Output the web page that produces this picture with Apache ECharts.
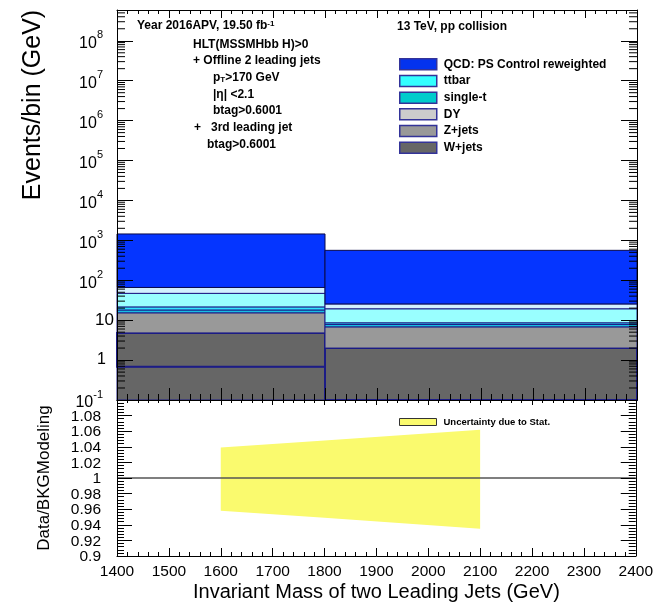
<!DOCTYPE html>
<html>
<head>
<meta charset="utf-8">
<script src="https://cdn.jsdelivr.net/npm/echarts@6/dist/echarts.min.js"></script>
<style>
  html, body { margin: 0; padding: 0; background: #ffffff; }
  #chart { width: 656px; height: 609px; }
</style>
</head>
<body>
<div id="chart"></div>
<script>
// ---- binning (GeV) ----
const binEdges = [1400, 1800, 2400];

// ---- per-bin yields, listed from the bottom of the stack upwards ----
const baseLayer = [0.68, 0];
const wJets     = [4.12, 2.0];
const zJets     = [10.5, 4.8];
const dyJets    = [2.7, 1.0];
const singleTop = [3.5, 0.8];
const ttbar     = [25.5, 10.7];
const otherBkg  = [19.0, 6.2];
const qcd       = [1379, 536.5];

// ---- statistical uncertainty band of the ratio ----
const bandMass  = [1600, 1800, 2100];
const bandLow   = [0.958, 0.949, 0.935];
const bandHigh  = [1.039, 1.048, 1.062];
const ratioRef  = 1;

// ---- ratio-panel tick labels ----
const ratioTickLabels = [0.9, 0.92, 0.94, 0.96, 0.98, 1, 1.02, 1.04, 1.06, 1.08];

// ---- axis ranges ----
const xMin = 1400, xMax = 2400;
const yLogMin = 0.1, yLogMax = 5.9e8;
const rMin = 0.9, rMax = 1.1;

const FONT = "'Liberation Sans', Arial, Helvetica, sans-serif";
const EDGE = '#1c1c86';

// stack layers: yields, fill inside the frame, legend swatch colour
const layers = [
  { name: 'base',    vals: baseLayer, fill: '#666666', swatch: '#666666', lw: 1 },
  { name: 'W+jets',  vals: wJets,     fill: '#666666', swatch: '#666666', lw: 2 },
  { name: 'Z+jets',  vals: zJets,     fill: '#999999', swatch: '#999999', lw: 1 },
  { name: 'DY',      vals: dyJets,    fill: '#16bfe2', swatch: '#cccccc', lw: 1 },
  { name: 'single-t',vals: singleTop, fill: '#2fe4ff', swatch: '#00cccc', lw: 1 },
  { name: 'ttbar',   vals: ttbar,     fill: '#99ffff', swatch: '#33ffff', lw: 1 },
  { name: 'other',   vals: otherBkg,  fill: '#d3f1ff', swatch: '#d3f1ff', lw: 1 },
  { name: 'QCD: PS Control reweighted', vals: qcd, fill: '#0535ff', swatch: '#0433ee', lw: 1 }
];
const legendNames = ['QCD: PS Control reweighted', 'ttbar', 'single-t', 'DY', 'Z+jets', 'W+jets'];

// cumulative stacking
const cum = binEdges.slice(0, -1).map(() => 0);
const stackSeries = layers.map((L, li) => {
  const data = [];
  L.vals.forEach((v, b) => {
    const lo = cum[b];
    const hi = lo + v;
    cum[b] = hi;
    if (v > 0) data.push([binEdges[b], binEdges[b + 1], Math.max(lo, yLogMin), hi]);
  });
  return {
    type: 'custom',
    name: L.name,
    xAxisIndex: 0,
    yAxisIndex: 0,
    z: 2 + li * 0.01,
    itemStyle: { color: L.swatch },
    encode: { x: [0, 1], y: [2, 3] },
    data: data,
    renderItem: function (params, api) {
      const p0 = api.coord([api.value(0), api.value(3)]);
      const p1 = api.coord([api.value(1), api.value(2)]);
      return {
        type: 'rect',
        shape: { x: p0[0], y: p0[1], width: p1[0] - p0[0], height: p1[1] - p0[1] },
        style: { fill: L.fill, stroke: li === layers.length - 1 ? '#0b0b4a' : EDGE, lineWidth: L.lw }
      };
    }
  };
});

// log-axis minor ticks (2..9 per decade), drawn inward on both frame edges
const minorLogTicks = [];
for (let d = -1; d <= 8; d++) {
  for (let k = 2; k <= 9; k++) {
    const v = k * Math.pow(10, d);
    if (v < yLogMax) minorLogTicks.push([v]);
  }
}
const minorTickSeries = {
  type: 'custom',
  name: 'minorLog',
  xAxisIndex: 0,
  yAxisIndex: 0,
  z: 20,
  silent: true,
  encode: { y: 0 },
  data: minorLogTicks,
  renderItem: function (params, api) {
    const v = api.value(0);
    const l = api.coord([xMin, v]);
    const r = api.coord([xMax, v]);
    return {
      type: 'group',
      children: [
        { type: 'line', shape: { x1: l[0], y1: l[1], x2: l[0] + 8, y2: l[1] }, style: { stroke: '#000', lineWidth: 1 } },
        { type: 'line', shape: { x1: r[0] - 8, y1: r[1], x2: r[0], y2: r[1] }, style: { stroke: '#000', lineWidth: 1 } }
      ]
    };
  }
};

// ratio-panel tick labels, placed through the ratio axis scale
const ratioLabelSeries = {
  type: 'custom',
  name: 'ratioLabels',
  xAxisIndex: 2,
  yAxisIndex: 2,
  z: 20,
  silent: true,
  clip: false,
  encode: { y: 0 },
  data: ratioTickLabels.map(v => [v]),
  renderItem: function (params, api) {
    const v = api.value(0);
    const p = api.coord([xMin, v]);
    return {
      type: 'text',
      x: p[0] - 16,
      y: p[1] + 1,
      style: {
        text: String(parseFloat(v.toFixed(2))),
        font: '15.5px ' + FONT, fill: '#000', align: 'right', verticalAlign: 'middle'
      }
    };
  }
};

// ratio uncertainty band as one polygon
const bandSeries = {
  type: 'custom',
  name: 'Uncertainty due to Stat.',
  xAxisIndex: 2,
  yAxisIndex: 2,
  z: 2,
  itemStyle: { color: '#fafa6e' },
  encode: { x: 0, y: [1, 2] },
  data: bandMass.map((m, i) => [m, bandLow[i], bandHigh[i]]),
  renderItem: function (params, api) {
    if (params.dataIndex !== 0) return null;
    const pts = [];
    for (let i = 0; i < bandMass.length; i++) pts.push(api.coord([bandMass[i], bandHigh[i]]));
    for (let i = bandMass.length - 1; i >= 0; i--) pts.push(api.coord([bandMass[i], bandLow[i]]));
    return { type: 'polygon', shape: { points: pts }, style: { fill: '#fafa6e' } };
  }
};

const unitySeries = {
  type: 'line',
  name: 'unity',
  xAxisIndex: 2,
  yAxisIndex: 2,
  z: 3,
  symbol: 'none',
  silent: true,
  lineStyle: { color: '#555555', width: 1.3 },
  data: [[xMin, ratioRef], [xMax, ratioRef]]
};

function xAxis(grid, pos, showLabels, major, minor, extra) {
  return Object.assign({
    type: 'value', gridIndex: grid, position: pos, min: xMin, max: xMax, interval: 100, z: 10,
    axisLine: { show: true, onZero: false, lineStyle: { color: '#000', width: 1 } },
    axisTick: { show: true, inside: true, length: major, lineStyle: { color: '#000', width: 1 } },
    minorTick: { show: true, splitNumber: 5, length: minor, lineStyle: { color: '#000', width: 1 } },
    splitLine: { show: false },
    axisLabel: {
      show: showLabels, fontFamily: FONT, fontSize: 15.5, color: '#000', margin: 8,
      showMinLabel: true, showMaxLabel: true, hideOverlap: false,
      formatter: function (v) { return String(v); }
    }
  }, extra || {});
}

function logYAxis(pos, showLabels) {
  return {
    type: 'log', logBase: 10, gridIndex: 0, position: pos, min: yLogMin, max: yLogMax,
    interval: 1, splitNumber: 10, z: 10,
    axisLine: { show: true, onZero: false, lineStyle: { color: '#000', width: 1 } },
    axisTick: { show: true, inside: true, length: 16, lineStyle: { color: '#000', width: 1 } },
    minorTick: { show: false },
    splitLine: { show: false },
    axisLabel: {
      show: showLabels, margin: 2, color: '#000',
      showMaxLabel: false, hideOverlap: false,
      formatter: function (v) {
        const lg = Math.log10(v);
        const e = Math.round(lg);
        if (Math.abs(lg - e) > 1e-6) return '';
        if (e === 0) return '{one|1}';
        if (e === 1) return '{ten|10}';
        return '{base|10}{sup|' + e + '}';
      },
      rich: {
        one:  { fontFamily: FONT, fontSize: 16, color: '#000', padding: [0, 9, 0, 0] },
        ten:  { fontFamily: FONT, fontSize: 17, color: '#000', padding: [0, 1, 0, 0] },
        base: { fontFamily: FONT, fontSize: 16, color: '#000', lineHeight: 22, verticalAlign: 'bottom' },
        sup:  { fontFamily: FONT, fontSize: 11, color: '#000', lineHeight: 11, verticalAlign: 'top', padding: [0, 12, 0, 0] }
      }
    }
  };
}

function ratioYAxis(pos) {
  return {
    type: 'value', gridIndex: 1, position: pos, min: rMin, max: rMax, interval: 0.02, z: 10,
    axisLine: { show: true, onZero: false, lineStyle: { color: '#000', width: 1 } },
    axisTick: { show: true, inside: true, length: 15, lineStyle: { color: '#000', width: 1 } },
    minorTick: { show: true, splitNumber: 5, length: 7, lineStyle: { color: '#000', width: 1 } },
    splitLine: { show: false },
    axisLabel: { show: false }
  };
}

const sup = { fontFamily: FONT, fontWeight: 'bold', fontSize: 8, verticalAlign: 'top', lineHeight: 8 };
const sub = { fontFamily: FONT, fontWeight: 'bold', fontSize: 8, verticalAlign: 'bottom', lineHeight: 8 };
function note(x, y, text) {
  return {
    type: 'text', left: x, top: y - 8, z: 30,
    style: {
      text: text, fill: '#000', font: 'bold 12px ' + FONT,
      rich: { sup: sup, sub: sub }
    }
  };
}

const option = {
  animation: false,
  backgroundColor: '#ffffff',
  grid: [
    { left: 117, right: 19, top: 10, height: 390 },
    { left: 117, right: 19, top: 400, height: 156 }
  ],
  xAxis: [
    xAxis(0, 'bottom', false, 12, 6),
    xAxis(0, 'top', false, 8, 4),
    xAxis(1, 'bottom', true, 8, 4, {
      name: 'Invariant Mass of two Leading Jets (GeV)',
      nameLocation: 'middle', nameGap: 26,
      nameTextStyle: { fontFamily: FONT, fontSize: 20, color: '#000' }
    }),
    xAxis(1, 'top', false, 5, 3)
  ],
  yAxis: [
    logYAxis('left', true),
    logYAxis('right', false),
    ratioYAxis('left'),
    ratioYAxis('right')
  ],
  legend: [
    {
      data: legendNames,
      orient: 'vertical', left: 399, top: 58, padding: 0,
      itemWidth: 37, itemHeight: 11, itemGap: 4.2, icon: 'rect',
      itemStyle: { borderColor: '#333399', borderWidth: 1.5 },
      textStyle: { fontFamily: FONT, fontWeight: 'bold', fontSize: 12, color: '#000', padding: [0, 0, 0, 2] },
      selectedMode: false
    },
    {
      data: ['Uncertainty due to Stat.'],
      orient: 'vertical', left: 399, top: 417, padding: 0,
      itemWidth: 37, itemHeight: 7, icon: 'rect',
      itemStyle: { borderColor: '#333333', borderWidth: 1 },
      textStyle: { fontFamily: FONT, fontWeight: 'bold', fontSize: 9.5, color: '#000', padding: [0, 0, 0, 2] },
      selectedMode: false
    }
  ],
  graphic: [
    note(137, 28, 'Year 2016APV, 19.50 fb{sup|-1}'),
    note(397, 29, '13 TeV, pp collision'),
    note(193, 47, 'HLT(MSSMHbb H)>0'),
    note(193, 63, '+ Offline 2 leading jets'),
    note(213, 80, 'p{sub|T}>170 GeV'),
    note(213, 97, '|\u03B7| <2.1'),
    note(213, 113, 'btag>0.6001'),
    note(194, 130, '+'),
    note(211, 130, '3rd leading jet'),
    note(207, 147, 'btag>0.6001'),
    {
      type: 'text', z: 30, x: 33, y: 105, rotation: Math.PI / 2,
      style: { text: 'Events/bin (GeV)', fill: '#000', font: '25px ' + FONT, align: 'center', verticalAlign: 'middle' }
    },
    {
      type: 'text', z: 30, x: 44, y: 478, rotation: Math.PI / 2,
      style: { text: 'Data/BKGModeling', fill: '#000', font: '17px ' + FONT, align: 'center', verticalAlign: 'middle' }
    }
  ],
  series: stackSeries.concat([minorTickSeries, ratioLabelSeries, bandSeries, unitySeries])
};

const chart = echarts.init(document.getElementById('chart'), null, { renderer: 'canvas' });
chart.setOption(option);
</script>
</body>
</html>
